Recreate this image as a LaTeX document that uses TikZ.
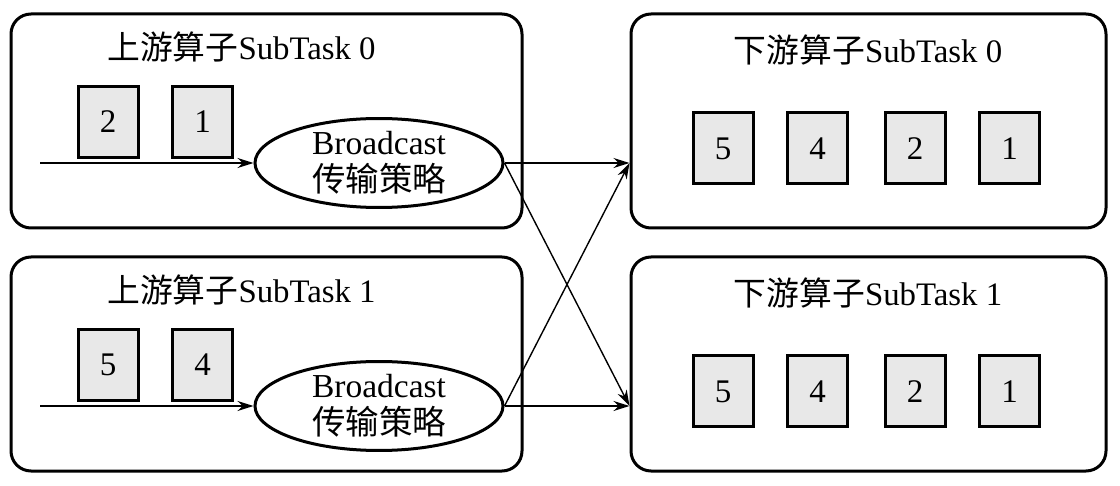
\documentclass[tikz,border=0pt]{standalone}
\usepackage{fontspec}
\setmainfont{Liberation Serif}
\newfontfamily\cjk{Noto Sans CJK SC}
\usetikzlibrary{arrows.meta,shapes.geometric}
\begin{document}
\begin{tikzpicture}[x=1pt,y=-1pt,
  bigbox/.style={draw,line width=3pt,rounded corners=20pt,minimum width=511pt,minimum height=214pt,inner sep=0pt},
  rbox/.style={draw,line width=3pt,rounded corners=20pt,minimum width=475pt,minimum height=214pt,inner sep=0pt},
  sq/.style={draw,line width=3pt,fill=black!9,minimum width=60pt,minimum height=71pt,inner sep=0pt,font=\fontsize{33}{36}\selectfont},
  ttl/.style={inner sep=0pt,font=\fontsize{32.8}{36}\selectfont},
  ell/.style={draw,ellipse,line width=3pt,minimum width=248pt,minimum height=74pt,inner sep=0pt,align=center,font=\fontsize{33.5}{37}\selectfont},
  conn/.style={line width=1.4pt,-{Stealth[length=16pt,width=10pt]}}]
\useasboundingbox (0,0) rectangle (1120,486);
% upstream boxes
\node[bigbox] (u0) at (266.5,121) {};
\node[bigbox] (u1) at (266.5,364) {};
\node[rbox] (d0) at (868.5,121) {};
\node[rbox] (d1) at (868.5,364) {};
% titles
\node[ttl] (tu0) at (241.5,47) {{\cjk 上游算子}SubTask 0};
\node[ttl] (tu1) at (241.5,290) {{\cjk 上游算子}SubTask 1};
\node[ttl] (td0) at (868,50) {{\cjk 下游算子}SubTask 0};
\node[ttl] (td1) at (868,293) {{\cjk 下游算子}SubTask 1};
% upstream squares
\node[sq] (a2) at (108,122) {2};
\node[sq] (a1) at (202.5,122) {1};
\node[sq] (b5) at (108,365) {5};
\node[sq] (b4) at (202.5,365) {4};
% downstream squares
\node[sq] (c5) at (723,148.5) {5};
\node[sq] (c4) at (817.5,148.5) {4};
\node[sq] (c2) at (915,148.5) {2};
\node[sq] (c1) at (1009.5,148.5) {1};
\node[sq] (e5) at (723,391.5) {5};
\node[sq] (e4) at (817.5,391.5) {4};
\node[sq] (e2) at (915,391.5) {2};
\node[sq] (e1) at (1009.5,391.5) {1};
% ellipses
\node[ell] (s0) at (379,163) {Broadcast\\{\cjk 传输策略}};
\node[ell] (s1) at (379,406) {Broadcast\\{\cjk 传输策略}};
% inputs
\coordinate (i0) at (40,163);
\coordinate (i1) at (40,406);
\draw[conn] (i0) -- (s0.west);
\draw[conn] (i1) -- (s1.west);
% outputs
\draw[conn] (s0.east) -- (s0.east -| d0.west);
\draw[conn] (s0.east) -- (s1.east -| d1.west);
\draw[conn] (s1.east) -- (s0.east -| d0.west);
\draw[conn] (s1.east) -- (s1.east -| d1.west);
\end{tikzpicture}
\end{document}
